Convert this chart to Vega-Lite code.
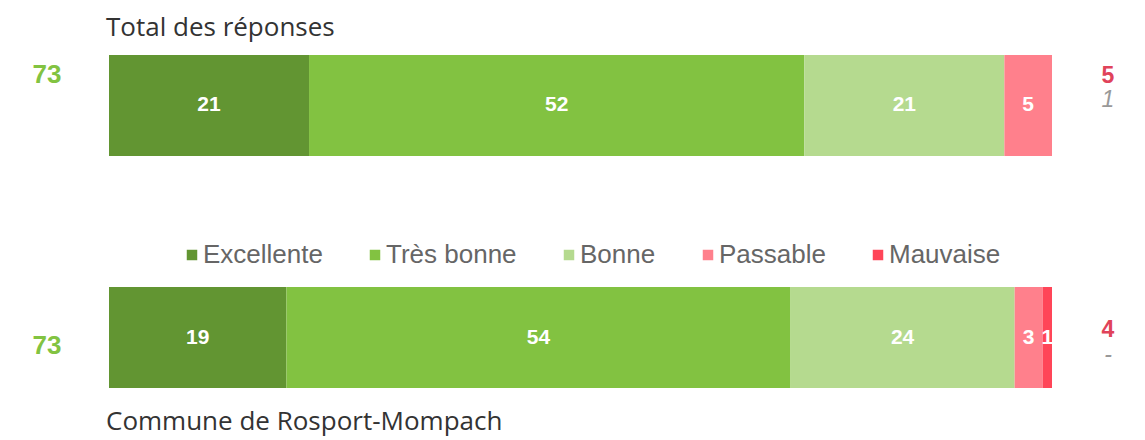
{
  "$schema": "https://vega.github.io/schema/vega-lite/v6.json",
  "width": 943,
  "height": 333,
  "autosize": {"type": "none"},
  "padding": {"left": 109, "top": 55, "right": 93, "bottom": 52},
  "background": "white",
  "config": {"view": {"stroke": null}, "font": "Liberation Sans"},
  "datasets": {
    "seg": [
      {"groupe": "Total des réponses", "note": "Excellente", "rang": 1, "n": 21},
      {"groupe": "Total des réponses", "note": "Très bonne", "rang": 2, "n": 52},
      {"groupe": "Total des réponses", "note": "Bonne", "rang": 3, "n": 21},
      {"groupe": "Total des réponses", "note": "Passable", "rang": 4, "n": 5},
      {"groupe": "Commune de Rosport-Mompach", "note": "Excellente", "rang": 1, "n": 19},
      {"groupe": "Commune de Rosport-Mompach", "note": "Très bonne", "rang": 2, "n": 54},
      {"groupe": "Commune de Rosport-Mompach", "note": "Bonne", "rang": 3, "n": 24},
      {"groupe": "Commune de Rosport-Mompach", "note": "Passable", "rang": 4, "n": 3},
      {"groupe": "Commune de Rosport-Mompach", "note": "Mauvaise", "rang": 5, "n": 1}
    ],
    "resume": [
      {"groupe": "Total des réponses", "positif": 73, "negatif": 5, "autre": "1"},
      {"groupe": "Commune de Rosport-Mompach", "positif": 73, "negatif": 4, "autre": "-"}
    ]
  },
  "encoding": {
    "y": {
      "field": "groupe",
      "type": "nominal",
      "scale": {"domain": ["Total des réponses", "Commune de Rosport-Mompach"], "paddingInner": 0.5647, "paddingOuter": 0},
      "axis": null
    }
  },
  "layer": [
    {
      "data": {"name": "seg"},
      "mark": {"type": "bar"},
      "encoding": {
        "x": {"field": "n", "type": "quantitative", "stack": "normalize", "scale": {"domain": [0, 1], "nice": false}, "axis": null},
        "color": {
          "field": "note",
          "type": "nominal",
          "scale": {
            "domain": ["Excellente", "Très bonne", "Bonne", "Passable", "Mauvaise"],
            "range": ["#629532", "#82C241", "#B5DA8F", "#FF808C", "#FF4558"]
          },
          "legend": {
            "orient": "none",
            "legendX": 70,
            "legendY": 187,
            "direction": "horizontal",
            "title": null,
            "symbolType": "square",
            "symbolSize": 110,
            "symbolStrokeWidth": 0,
            "symbolOpacity": 1,
            "labelFontSize": 26,
            "labelColor": "#666666",
            "labelOffset": -2,
            "columnPadding": 39,
            "labelFont": "Liberation Sans",
            "padding": 0,
            "labelLimit": 0
          }
        },
        "order": {"field": "rang"}
      }
    },
    {
      "data": {"name": "seg"},
      "mark": {"type": "text", "color": "white", "fontWeight": "bold", "fontSize": 21, "font": "Liberation Sans"},
      "encoding": {
        "x": {"field": "n", "type": "quantitative", "stack": "normalize", "bandPosition": 0.5},
        "text": {"field": "n"},
        "order": {"field": "rang"}
      }
    },
    {
      "data": {"name": "resume"},
      "transform": [{"filter": "datum.groupe === 'Total des réponses'"}],
      "layer": [
        {
          "mark": {"type": "text", "color": "#82C341", "fontWeight": "bold", "fontSize": 26, "dy": -30},
          "encoding": {"x": {"datum": -0.0657}, "text": {"field": "positif"}}
        },
        {
          "mark": {"type": "text", "color": "#E0435A", "fontWeight": "bold", "fontSize": 23, "dy": -29},
          "encoding": {"x": {"datum": 1.0594}, "text": {"field": "negatif"}}
        },
        {
          "mark": {"type": "text", "color": "#999999", "fontStyle": "italic", "fontSize": 23, "dy": -5},
          "encoding": {"x": {"datum": 1.0594}, "text": {"field": "autre"}}
        },
        {
          "mark": {"type": "text", "color": "#333333", "font": "Open Sans", "fontSize": 26, "align": "left", "dy": -77, "dx": -3},
          "encoding": {"x": {"datum": 0}, "text": {"field": "groupe"}}
        }
      ]
    },
    {
      "data": {"name": "resume"},
      "transform": [{"filter": "datum.groupe === 'Commune de Rosport-Mompach'"}],
      "layer": [
        {
          "mark": {"type": "text", "color": "#82C341", "fontWeight": "bold", "fontSize": 26, "dy": 8},
          "encoding": {"x": {"datum": -0.0657}, "text": {"field": "positif"}}
        },
        {
          "mark": {"type": "text", "color": "#E0435A", "fontWeight": "bold", "fontSize": 23, "dy": -8},
          "encoding": {"x": {"datum": 1.0594}, "text": {"field": "negatif"}}
        },
        {
          "mark": {"type": "text", "color": "#999999", "fontStyle": "italic", "fontSize": 23, "dy": 17},
          "encoding": {"x": {"datum": 1.0594}, "text": {"field": "autre"}}
        },
        {
          "mark": {"type": "text", "color": "#333333", "font": "Open Sans", "fontSize": 26, "align": "left", "dy": 84, "dx": -3},
          "encoding": {"x": {"datum": 0}, "text": {"field": "groupe"}}
        }
      ]
    }
  ]
}
